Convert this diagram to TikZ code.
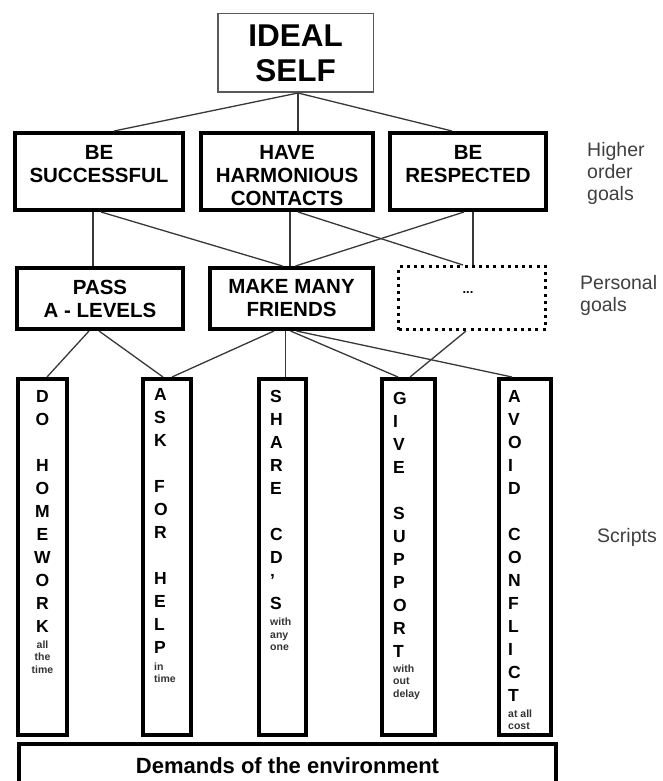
\documentclass[tikz,border=0pt]{standalone}
\usepackage{fontspec}
\setmainfont{Liberation Sans}
\usetikzlibrary{calc}

\begin{document}
\begin{tikzpicture}[x=1pt,y=-1pt,
  link/.style={draw=black!78, line width=1.3pt},
  topbox/.style={draw=black!65, line width=1.5pt, inner sep=0pt},
  goalbox/.style={draw=black, line width=4pt, inner sep=0pt},
  dotbox/.style={draw=black, line width=3pt, dash pattern=on 3pt off 4.2pt, inner sep=0pt},
  scriptbox/.style={draw=black, line width=4pt, inner sep=0pt, minimum height=356pt},
  idealtxt/.style={font=\fontsize{31.5}{35}\selectfont\bfseries, align=center, inner sep=0pt, anchor=north},
  goaltxt/.style={font=\fontsize{20.5}{23}\selectfont\bfseries, align=center, inner sep=0pt, anchor=north},
  lettertxt/.style={font=\fontsize{17.5}{23}\selectfont\bfseries, inner sep=0pt},
  smalltxt/.style={font=\fontsize{10.5}{12.5}\selectfont\bfseries, text=black!80, inner sep=0pt},
  sidelbl/.style={font=\fontsize{19.5}{22}\selectfont, text=black!75, align=left, inner sep=0pt, anchor=north west}
]
\useasboundingbox (0,0) rectangle (662,781);
\fill[white] (0,0) rectangle (662,781);
\clip (0,0) rectangle (662,781);

% ---- top level
\node[topbox, minimum width=155.5pt, minimum height=78.5pt] (ideal) at (295.5,53) {};
\node[idealtxt] (ideal-t) at ($(ideal.north)+(0,11.5)$) {IDEAL\\SELF};

% ---- higher order goals
\node[goalbox, minimum width=168pt, minimum height=77pt] (succ) at (99,171.5) {};
\node[goalbox, minimum width=172pt, minimum height=77pt] (have) at (287,171.5) {};
\node[goalbox, minimum width=156pt, minimum height=77pt] (resp) at (468,171.5) {};
\node[goaltxt] (succ-t) at ($(succ.north)+(0,14)$) {BE\\SUCCESSFUL};
\node[goaltxt] (have-t) at ($(have.north)+(0,14)$) {HAVE\\HARMONIOUS\\CONTACTS};
\node[goaltxt] (resp-t) at ($(resp.north)+(0,14)$) {BE\\RESPECTED};

% ---- personal goals
\node[goalbox, minimum width=166pt, minimum height=61pt] (pass) at (100,298.5) {};
\node[goalbox, minimum width=163pt, minimum height=61pt] (make) at (291.5,298.5) {};
\node[dotbox, minimum width=147pt, minimum height=63pt] (more) at (472,298) {};
\node[goaltxt] (pass-t) at ($(pass.north)+(0,14)$) {PASS\\A - LEVELS};
\node[goaltxt] (make-t) at ($(make.north)+(0,13)$) {MAKE MANY\\FRIENDS};
\node[font=\fontsize{13}{15}\selectfont\bfseries, inner sep=0pt, anchor=base] (more-t) at ($(more.center)+(-4,-5)$) {...};

% ---- scripts
\node[scriptbox, minimum width=49pt] (do) at (42.5,557) {};
\node[scriptbox, minimum width=48pt] (ask) at (167,557) {};
\node[scriptbox, minimum width=47pt] (share) at (282.5,557) {};
\node[scriptbox, minimum width=53pt] (give) at (408.5,557) {};
\node[scriptbox, minimum width=52pt] (avoid) at (525,557) {};

\node[lettertxt, align=center, anchor=north] (do-l) at ($(do.north)+(0,13)$)
  {D\\O\\\mbox{}\\H\\O\\M\\E\\W\\O\\R\\K};
\node[lettertxt, align=left, anchor=north west] (ask-l) at ($(ask.north west)+(13,11)$)
  {A\\S\\K\\\mbox{}\\F\\O\\R\\\mbox{}\\H\\E\\L\\P};
\node[lettertxt, align=left, anchor=north west] (share-l) at ($(share.north west)+(13,13)$)
  {S\\H\\A\\R\\E\\\mbox{}\\C\\D\\'\\S};
\node[lettertxt, align=left, anchor=north west] (give-l) at ($(give.north west)+(13,15)$)
  {G\\I\\V\\E\\\mbox{}\\S\\U\\P\\P\\O\\R\\T};
\node[lettertxt, align=left, anchor=north west] (avoid-l) at ($(avoid.north west)+(11,13)$)
  {A\\V\\O\\I\\D\\\mbox{}\\C\\O\\N\\F\\L\\I\\C\\T};

\node[smalltxt, align=center, anchor=north] (do-s) at ($(do-l.south)+(0,8)$) {all\\the\\time};
\node[smalltxt, align=left, anchor=north west] (ask-s) at ($(ask-l.south west)+(0,9)$) {in\\time};
\node[smalltxt, align=left, anchor=north west] (share-s) at ($(share-l.south west)+(0,8)$) {with\\any\\one};
\node[smalltxt, align=left, anchor=north west] (give-s) at ($(give-l.south west)+(0,7)$) {with\\out\\delay};
\node[smalltxt, align=left, anchor=north west] (avoid-s) at ($(avoid-l.south west)+(0,8)$) {at all\\cost};

% ---- environment
\node[goalbox, minimum width=537pt, minimum height=74pt] (env) at (287.5,781) {};
\node[font=\fontsize{22}{24}\selectfont\bfseries, inner sep=0pt, anchor=north] (env-t)
  at ($(env.north)+(0,15)$) {Demands of the environment};

% ---- level labels
\node[sidelbl] (lbl-high) at (587,142.5) {Higher\\order\\goals};
\node[sidelbl] (lbl-pers) at (580,275.5) {Personal\\goals};
\node[sidelbl] (lbl-scr) at (597,528) {Scripts};

% ---- connectors: ideal self -> higher order goals
\draw[link] ($(ideal.south)+(2.5,0)$) -- ($(succ.north)+(15,0)$);
\draw[link] ($(ideal.south)+(2.5,0)$) -- ($(have.north)+(11,0)$);
\draw[link] ($(ideal.south)+(2.5,0)$) -- ($(resp.north)+(-16,0)$);

% ---- higher order goals -> personal goals
\draw[link] ($(succ.south)+(-6,0)$) -- ($(pass.north)+(-7,0)$);
\draw[link] ($(succ.south)+(2,0)$) -- ($(make.north)+(-9,0)$);
\draw[link] ($(have.south)+(3,0)$) -- ($(make.north)+(-1.5,0)$);
\draw[link] ($(have.south)+(11,0)$) -- ($(more.north)+(-9,0)$);
\draw[link] ($(resp.south)+(-4,0)$) -- ($(make.north)+(4,0)$);
\draw[link] ($(resp.south)+(5,0)$) -- ($(more.north)+(1,0)$);

% ---- personal goals -> scripts
\draw[link] ($(pass.south)+(-11,0)$) -- ($(do.north)+(4.5,0)$);
\draw[link] ($(pass.south)+(-1,0)$) -- ($(ask.north)+(-4,0)$);
\draw[link] ($(make.south)+(-17.5,0)$) -- ($(ask.north)+(5,0)$);
\draw[link] ($(make.south)+(-6,0)$) -- ($(share.north)+(3,0)$);
\draw[link] ($(make.south)+(-1,0)$) -- ($(give.north)+(-10.5,0)$);
\draw[link] ($(make.south)+(5,0)$) -- ($(avoid.north)+(-13,0)$);
\draw[link] ($(more.south)+(-6,0)$) -- ($(give.north)+(1.5,0)$);
\end{tikzpicture}
\end{document}
